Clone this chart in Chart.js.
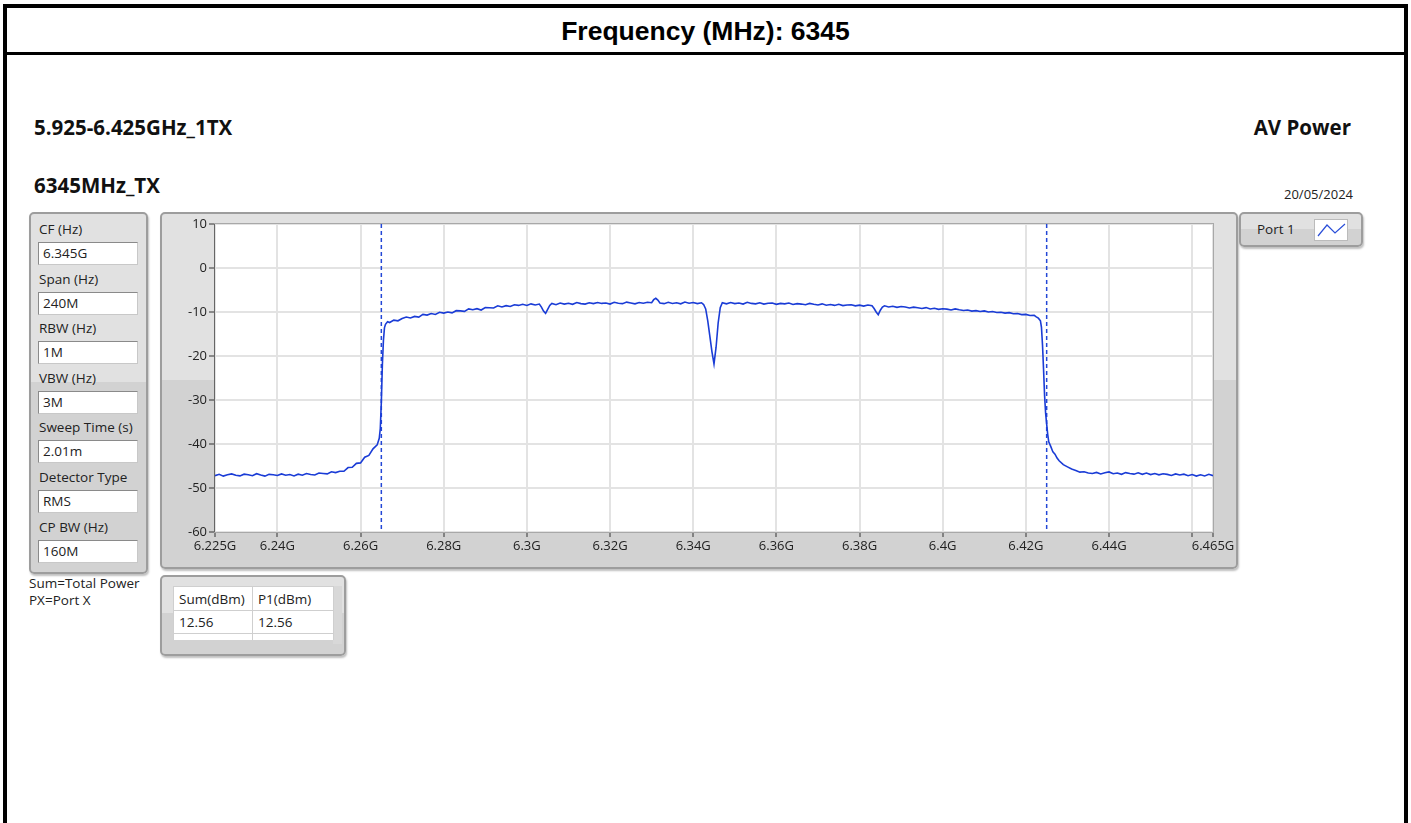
<!DOCTYPE html>
<html>
<head>
<meta charset="utf-8">
<script src="https://cdn.jsdelivr.net/npm/chart.js@4.4.1/dist/chart.umd.min.js"></script>
<style>
  html, body { margin:0; padding:0; background:#fff; }
  body { width:1411px; height:823px; overflow:hidden; position:relative; font-family:"Open Sans", "DejaVu Sans", sans-serif; color:#111; }
  #frame { position:absolute; left:3px; top:4px; width:1397px; height:840px; border:4px solid #000; border-bottom:none; }
  #titlebar { position:absolute; left:0; top:0; width:100%; height:44px; border-bottom:3px solid #000; }
  #title { position:absolute; left:0; width:100%; top:8px; text-align:center; font-family:"Liberation Sans", Arial, sans-serif; font-weight:bold; font-size:26.5px; color:#000; }
  .hdr { position:absolute; font-weight:700; font-size:20.5px; color:#111; white-space:nowrap; }
  .panel { position:absolute; border:2px solid #9d9d9d; border-radius:5px; box-sizing:border-box;
           background:linear-gradient(#e1e1e1 0%, #e1e1e1 47%, #d2d2d2 47%, #d2d2d2 100%);
           box-shadow:1px 2px 2px rgba(0,0,0,0.25); }
  .lbl { position:absolute; left:8px; font-size:13.5px; color:#222; white-space:nowrap; }
  .val { position:absolute; left:7px; width:100px; height:23px; background:#fff; box-sizing:border-box;
         border:1px solid #8a8a8a; border-right-color:#c8c8c8; border-bottom-color:#c8c8c8;
         font-size:13.5px; line-height:21px; padding-left:4px; color:#222; }
  .small { position:absolute; font-size:13.5px; color:#222; white-space:nowrap; }
  table.res { position:absolute; left:11px; top:9px; border-collapse:collapse; background:#fff; font-size:13.5px; color:#222; table-layout:fixed; }
  table.res td { border:1px solid #cfcfcf; height:22px; padding:0 5px; white-space:nowrap; }
</style>
</head>
<body>
<div id="frame"><div id="titlebar"><div id="title">Frequency (MHz): 6345</div></div></div>

<div class="hdr" style="left:34px; top:113px;">5.925-6.425GHz_1TX</div>
<div class="hdr" style="right:60px; top:113px;">AV Power</div>
<div class="hdr" style="left:34px; top:171px;">6345MHz_TX</div>
<div class="small" style="right:58px; top:185px; font-size:13px;">20/05/2024</div>

<div id="settings" class="panel" style="left:29px; top:212px; width:119px; height:362px;"></div>
<div class="small" style="left:29px; top:574px;">Sum=Total Power</div>
<div class="small" style="left:29px; top:591px;">PX=Port X</div>

<div class="panel" style="left:160px; top:212px; width:1078px; height:357px;">
  <canvas id="c" width="1074" height="353" style="position:absolute; left:0; top:0;"></canvas>
</div>

<div class="panel" style="left:1239px; top:212px; width:124px; height:35px;">
  <div class="small" style="left:16px; top:6px;">Port 1</div>
  <div style="position:absolute; left:73px; top:5px; width:34px; height:22px; background:#fff; border:1px solid #bbb; box-sizing:border-box;">
    <svg width="32" height="20" style="position:absolute; left:0; top:0;"><polyline points="3,16 12,5 20,13 30,4" fill="none" stroke="#2a4ed8" stroke-width="1.2"/></svg>
  </div>
</div>

<div class="panel" style="left:160px; top:575px; width:186px; height:81px;">
  <div style="position:absolute; left:171px; top:9px; width:9px; height:58px; background:#d8d8d8;"></div>
  <table class="res" id="res"></table>
</div>

<script>
// ---- settings panel text ----
const settingLabels = ["CF (Hz)", "Span (Hz)", "RBW (Hz)", "VBW (Hz)", "Sweep Time (s)", "Detector Type", "CP BW (Hz)"];
const settingValues = ["6.345G", "240M", "1M", "3M", "2.01m", "RMS", "160M"];
// ---- result table ----
const resultHeaders = ["Sum(dBm)", "P1(dBm)"];
const resultValues = ["12.56", "12.56"];

// ---- axes ----
const xTickValues = [6225, 6240, 6260, 6280, 6300, 6320, 6340, 6360, 6380, 6400, 6420, 6440, 6460, 6465];
const xTickLabels = ["6.225G", "6.24G", "6.26G", "6.28G", "6.3G", "6.32G", "6.34G", "6.36G", "6.38G", "6.4G", "6.42G", "6.44G", "", "6.465G"];
const yTickValues = [10, 0, -10, -20, -30, -40, -50, -60];

// channel power bandwidth edges (MHz)
const cpEdges = [6265, 6425];

// ---- trace: Port 1 (MHz, dBm) ----
const freqMHz = [
6225,6226,6227,6228,6229,6230,6231,6232,6233,6234,6235,6236,6237,6238,6239,6240,6241,6242,6243,6244,
6245,6246,6247,6248,6249,6250,6251,6252,6253,6254,6255,6256,6257,6258,6259,6260,6261,6262,6263,6264,
6264.5,6264.75,6265,6265.25,6265.5,6265.75,6266,6266.5,6267,6268,6269,6270,6271,6272,6273,6274,6275,6276,6277,6278,
6279,6280,6281,6282,6283,6284,6285,6286,6287,6288,6289,6290,6291,6292,6293,6294,6295,6296,6297,6298,
6299,6300,6301,6302,6303,6303.5,6304,6304.5,6305,6305.5,6306,6307,6308,6309,6310,6311,6312,6313,6314,6315,
6316,6317,6318,6319,6320,6321,6322,6323,6324,6325,6326,6327,6328,6329,6330,6330.5,6331,6331.5,6332,6333,
6334,6335,6336,6337,6338,6339,6340,6341,6342,6342.5,6343,6343.5,6344,6344.5,6345,6345.5,6346,6346.5,6347,6348,
6349,6350,6351,6352,6353,6354,6355,6356,6357,6358,6359,6360,6361,6362,6363,6364,6365,6366,6367,6368,
6369,6370,6371,6372,6373,6374,6375,6376,6377,6378,6379,6380,6381,6382,6383,6383.5,6384,6384.5,6385,6385.5,
6386,6387,6388,6389,6390,6391,6392,6393,6394,6395,6396,6397,6398,6399,6400,6401,6402,6403,6404,6405,
6406,6407,6408,6409,6410,6411,6412,6413,6414,6415,6416,6417,6418,6419,6420,6421,6422,6422.5,6423,6423.5,
6423.75,6424,6424.25,6424.5,6424.75,6425,6425.25,6425.5,6426,6426.5,6427,6427.5,6428,6429,6430,6431,6432,6433,6434,6435,
6436,6437,6438,6439,6440,6441,6442,6443,6444,6445,6446,6447,6448,6449,6450,6451,6452,6453,6454,6455,
6456,6457,6458,6459,6460,6461,6462,6463,6464,6465
];
const powerDbm = [
-47.2,-46.9,-47.3,-47.0,-46.8,-47.1,-47.25,-46.85,-47.0,-47.2,-46.75,-47.05,-47.3,-46.9,-47.0,-47.15,-46.8,-47.1,-46.95,-47.25,
-46.85,-47.1,-46.7,-46.95,-47.05,-46.6,-46.7,-46.8,-46.3,-46.5,-46.2,-46.2,-45.35,-45.3,-44.4,-44.3,-43.0,-42.6,-41.1,-40.2,
-38.7,-36.5,-30.5,-22.0,-16.5,-13.6,-12.8,-12.2,-12.4,-11.85,-12.0,-11.5,-11.15,-11.35,-11.0,-11.15,-10.55,-10.7,-10.35,-10.55,
-10.05,-10.25,-10.0,-10.2,-9.7,-9.75,-9.85,-9.3,-9.5,-9.25,-9.55,-9.0,-9.05,-9.1,-8.6,-8.85,-8.55,-8.75,-8.35,-8.5,
-8.25,-8.5,-8.15,-8.4,-8.2,-8.9,-9.8,-10.3,-9.4,-8.5,-8.05,-8.35,-7.95,-8.2,-8.0,-8.25,-7.85,-8.1,-8.2,-7.9,
-8.1,-7.85,-8.05,-7.95,-8.2,-7.8,-8.0,-8.1,-7.75,-7.95,-8.15,-7.85,-8.0,-7.8,-7.9,-7.2,-6.9,-7.3,-7.95,-8.1,
-7.8,-8.05,-7.9,-8.15,-7.75,-8.0,-7.85,-8.1,-7.9,-8.3,-9.3,-12.0,-15.5,-19.0,-21.8,-18.0,-12.5,-9.0,-7.9,-8.15,
-7.85,-8.1,-7.95,-8.2,-7.8,-8.05,-8.15,-7.9,-8.2,-8.0,-7.95,-8.25,-8.05,-8.15,-7.95,-8.3,-8.1,-8.2,-8.35,-8.05,
-8.25,-8.4,-8.15,-8.45,-8.3,-8.5,-8.25,-8.55,-8.4,-8.35,-8.6,-8.45,-8.65,-8.4,-8.6,-9.2,-10.0,-10.6,-9.6,-8.9,
-8.6,-8.85,-8.7,-8.95,-8.75,-8.85,-9.1,-8.9,-9.05,-9.2,-9.0,-9.3,-9.15,-9.4,-9.25,-9.35,-9.55,-9.3,-9.5,-9.65,
-9.55,-9.8,-9.7,-9.9,-9.75,-10.0,-9.9,-10.1,-10.05,-10.25,-10.15,-10.4,-10.35,-10.6,-10.55,-10.8,-10.75,-11.1,-11.4,-12.0,
-13.5,-17.5,-23.0,-29.0,-33.0,-35.5,-37.8,-39.5,-40.6,-41.8,-42.3,-43.2,-43.8,-44.7,-45.2,-45.7,-46.0,-46.4,-46.3,-46.6,
-46.7,-46.45,-46.8,-46.55,-46.35,-46.75,-46.6,-46.9,-46.5,-46.7,-46.85,-46.55,-46.9,-46.6,-46.95,-46.7,-47.0,-46.75,-46.9,-47.15,
-46.8,-47.05,-46.85,-47.2,-46.95,-47.3,-47.0,-47.25,-46.9,-47.2
];

// ---- build settings panel ----
const sp = document.getElementById('settings');
settingLabels.forEach((l, i) => {
  const top = 6 + i * 49.6;
  const a = document.createElement('div'); a.className = 'lbl'; a.style.top = top + 'px'; a.textContent = l; sp.appendChild(a);
  const b = document.createElement('div'); b.className = 'val'; b.style.top = (top + 22) + 'px'; b.textContent = settingValues[i]; sp.appendChild(b);
});
// ---- build table ----
const rt = document.getElementById('res');
const colW = [79, 81];
const r1 = rt.insertRow(); resultHeaders.forEach((h, k) => { const c = r1.insertCell(); c.textContent = h; c.style.height = '23px'; c.style.width = (colW[k] - 11) + 'px'; });
const r2 = rt.insertRow(); resultValues.forEach(v => { const c = r2.insertCell(); c.textContent = v; });
const r3 = rt.insertRow(); resultValues.forEach(() => { const c = r3.insertCell(); c.style.height = '6px'; c.style.borderBottom = 'none'; });

// ---- chart ----
const tracePts = freqMHz.map((f, i) => ({ x: f, y: powerDbm[i] }));
const edgeSets = cpEdges.map(f => ({
  data: [{ x: f, y: 10 }, { x: f, y: -60 }],
  borderColor: '#2347d6', borderWidth: 1.5, borderDash: [4, 3], pointRadius: 0, fill: false
}));

const plotBg = {
  id: 'plotBg',
  beforeDraw(chart) {
    const { ctx, chartArea: a } = chart;
    ctx.save(); ctx.fillStyle = '#fff'; ctx.fillRect(a.left, a.top, a.right - a.left, a.bottom - a.top); ctx.restore();
  },
  afterDraw(chart) {
    const { ctx, chartArea: a } = chart;
    ctx.save(); ctx.strokeStyle = '#a8a8a8'; ctx.lineWidth = 1;
    ctx.strokeRect(a.left - 0.5, a.top - 0.5, a.right - a.left + 1, a.bottom - a.top + 1);
    ctx.strokeStyle = '#666'; ctx.beginPath(); ctx.moveTo(a.left - 0.5, a.top); ctx.lineTo(a.left - 0.5, a.bottom); ctx.stroke();
    ctx.restore();
  }
};

new Chart(document.getElementById('c'), {
  type: 'line',
  data: {
    datasets: [
      { label: 'Port 1', data: tracePts, borderColor: '#1a3cd6', borderWidth: 1.6, pointRadius: 0, tension: 0, fill: false },
      ...edgeSets
    ]
  },
  options: {
    responsive: false, animation: false, events: [],
    layout: { padding: { top: 10, right: 23, left: 0, bottom: 0 } },
    plugins: { legend: { display: false }, tooltip: { enabled: false } },
    scales: {
      x: {
        type: 'linear', min: 6225, max: 6465,
        afterBuildTicks(s) { s.ticks = xTickValues.map(v => ({ value: v })); },
        afterFit(s) { s.height = 35; },
        ticks: { autoSkip: false, maxRotation: 0, padding: 1, color: '#222',
                 font: { family: 'Open Sans', size: 13 },
                 callback(v) { const k = xTickValues.indexOf(v); return k >= 0 ? xTickLabels[k] : ''; } },
        grid: { color: '#e3e3e3', lineWidth: 2, tickColor: '#333', tickLength: 5, tickWidth: 1 },
        border: { display: false }
      },
      y: {
        min: -60, max: 10,
        afterBuildTicks(s) { s.ticks = yTickValues.map(v => ({ value: v })); },
        afterFit(s) { s.width = 53; },
        ticks: { padding: 2, color: '#222', font: { family: 'Open Sans', size: 13 } },
        grid: { color: '#e3e3e3', lineWidth: 2, tickColor: '#333', tickLength: 6, tickWidth: 1 },
        border: { display: false }
      }
    }
  },
  plugins: [plotBg]
});
</script>
</body>
</html>
